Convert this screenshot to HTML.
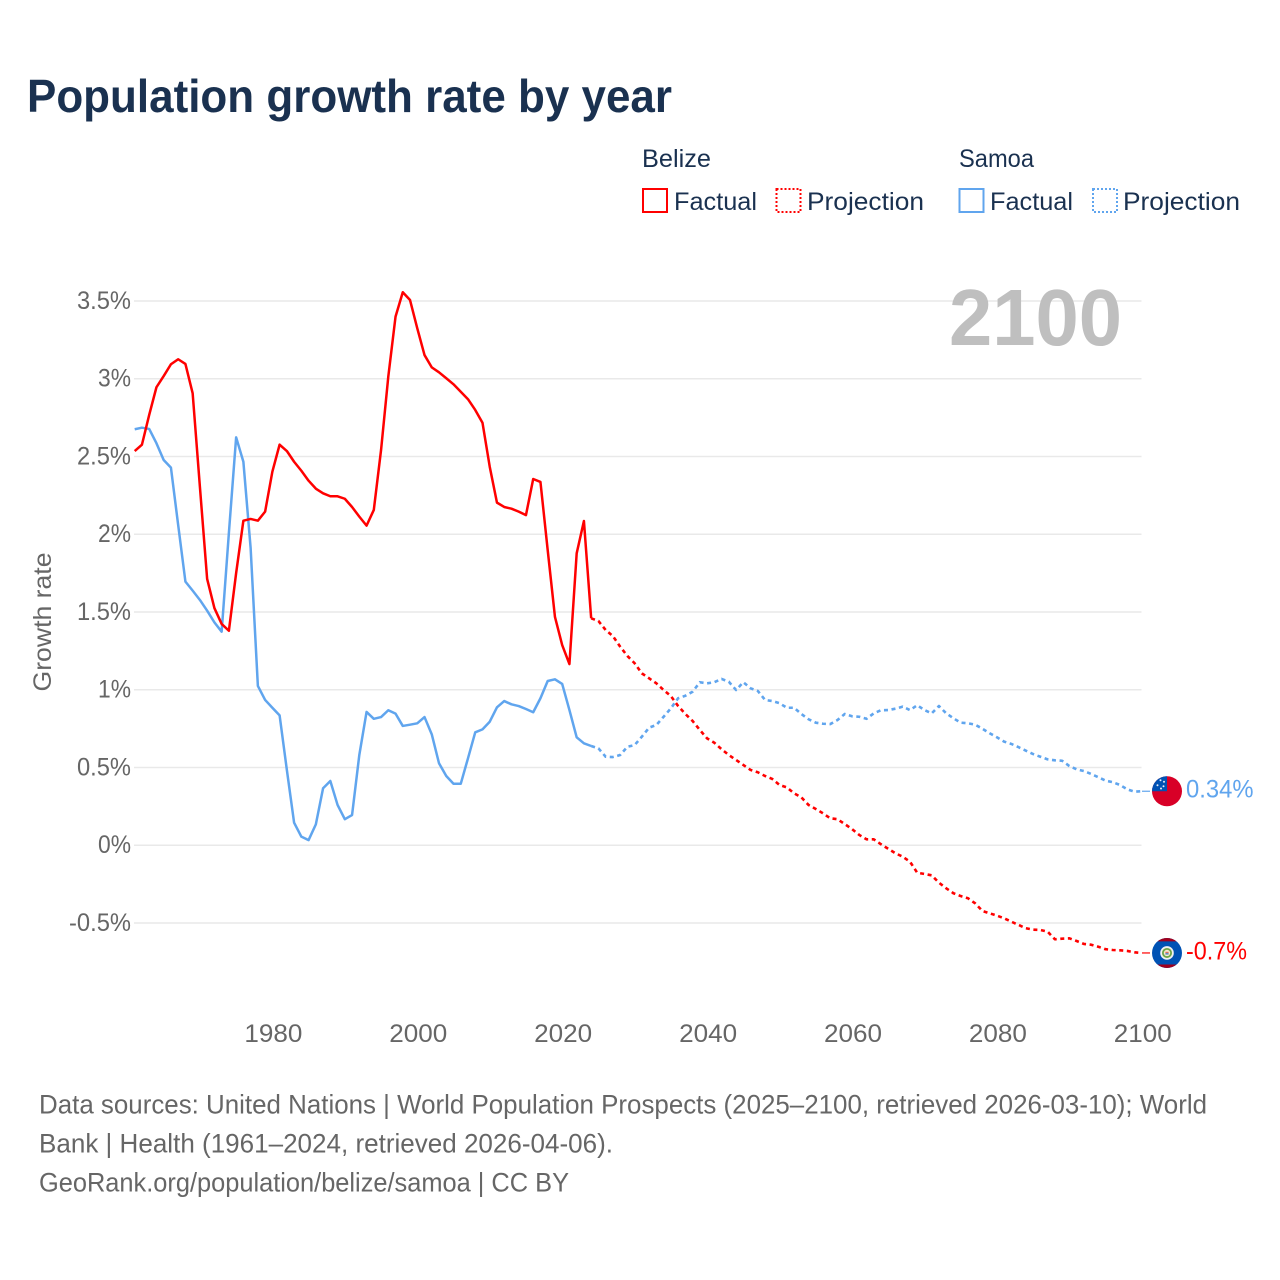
<!DOCTYPE html>
<html lang="en">
<head>
<meta charset="utf-8">
<title>Population growth rate by year</title>
<style>
html,body{margin:0;padding:0;background:#fff;width:1280px;height:1280px;overflow:hidden}
svg{display:block}
text{font-family:"Liberation Sans",sans-serif}
</style>
</head>
<body>
<svg id="chart" xmlns="http://www.w3.org/2000/svg" width="1280" height="1280" viewBox="0 0 1280 1280">
  <rect x="0" y="0" width="1280" height="1280" fill="#fff"/>
  <text x="27" y="112" font-size="46" font-weight="700" fill="#1a3150" textLength="645" lengthAdjust="spacingAndGlyphs">Population growth rate by year</text>

  <g font-size="25" fill="#1a3150">
    <text x="642" y="167" textLength="69" lengthAdjust="spacingAndGlyphs">Belize</text>
    <text x="959" y="167" textLength="75" lengthAdjust="spacingAndGlyphs">Samoa</text>
    <g>
      <rect x="643" y="189" width="24" height="23" fill="none" stroke="#ff0000" stroke-width="2"/>
      <text x="674" y="210" textLength="83" lengthAdjust="spacingAndGlyphs">Factual</text>
    </g>
    <g>
      <rect x="776.5" y="189" width="24" height="23" fill="none" stroke="#ff0000" stroke-width="2" stroke-dasharray="2 2"/>
      <text x="807" y="210" textLength="117" lengthAdjust="spacingAndGlyphs">Projection</text>
    </g>
    <g>
      <rect x="959.5" y="189" width="24" height="23" fill="none" stroke="#60a5ee" stroke-width="2"/>
      <text x="990" y="210" textLength="83" lengthAdjust="spacingAndGlyphs">Factual</text>
    </g>
    <g>
      <rect x="1093" y="189" width="24" height="23" fill="none" stroke="#60a5ee" stroke-width="2" stroke-dasharray="2 2"/>
      <text x="1123" y="210" textLength="117" lengthAdjust="spacingAndGlyphs">Projection</text>
    </g>
  </g>

  <g id="grid"></g>
  <g id="yticks"></g>
  <g id="xticks"></g>

  <text transform="translate(51 622) rotate(-90)" text-anchor="middle" font-size="25" fill="#666" textLength="139" lengthAdjust="spacingAndGlyphs">Growth rate</text>
  <text x="949" y="345" font-size="80" font-weight="700" fill="#bfbfbf" textLength="173" lengthAdjust="spacingAndGlyphs">2100</text>

  <g id="series"></g>
  <g id="ends"></g>

  <g font-size="27" fill="#666">
    <text x="39" y="1113.5" textLength="1168" lengthAdjust="spacingAndGlyphs">Data sources: United Nations | World Population Prospects (2025–2100, retrieved 2026-03-10); World</text>
    <text x="39" y="1152.5" textLength="574" lengthAdjust="spacingAndGlyphs">Bank | Health (1961–2024, retrieved 2026-04-06).</text>
    <text x="39" y="1191.5" textLength="530" lengthAdjust="spacingAndGlyphs">GeoRank.org/population/belize/samoa | CC BY</text>
  </g>
</svg>
<script>
const yTicks = [3.5, 3, 2.5, 2, 1.5, 1, 0.5, 0, -0.5];
const xTicks = [1980, 2000, 2020, 2040, 2060, 2080, 2100];
const factualStartYear = 1961;
const projectionStartYear = 2025;

const belizeFactual = [
2.535,2.576,2.767,2.945,3.017,3.093,3.125,3.095,2.906,2.304,
1.712,1.525,1.423,1.379,1.750,2.087,2.098,2.087,2.145,2.402,
2.576,2.535,2.466,2.408,2.344,2.293,2.263,2.244,2.244,2.228,
2.175,2.113,2.055,2.156,2.541,3.013,3.399,3.556,3.506,3.324,
3.152,3.073,3.041,3.003,2.964,2.916,2.868,2.799,2.717,2.434,
2.203,2.175,2.164,2.145,2.123,2.355,2.336,1.898,1.469,1.287,
1.165,1.877,2.085,1.459];

const belizeProjection = [
1.442,1.384,1.345,1.277,1.217,1.170,1.105,1.073,1.041,0.998,
0.959,0.895,0.844,0.799,0.741,0.687,0.659,0.617,0.580,0.548,
0.516,0.484,0.469,0.445,0.426,0.387,0.372,0.334,0.308,0.259,
0.233,0.205,0.173,0.167,0.136,0.104,0.066,0.038,0.038,0.006,
-0.023,-0.052,-0.074,-0.106,-0.177,-0.185,-0.194,-0.241,-0.277,-0.309,
-0.327,-0.341,-0.374,-0.423,-0.438,-0.453,-0.470,-0.492,-0.513,-0.534,
-0.543,-0.545,-0.556,-0.605,-0.601,-0.599,-0.616,-0.635,-0.640,-0.653,
-0.669,-0.674,-0.676,-0.680,-0.689,-0.693];

const samoaFactual = [
2.675,2.685,2.677,2.585,2.477,2.428,2.059,1.695,1.637,1.577,
1.508,1.433,1.373,2.008,2.623,2.466,1.911,1.024,0.934,0.884,
0.835,0.484,0.145,0.055,0.033,0.134,0.366,0.413,0.259,0.167,
0.194,0.580,0.857,0.813,0.824,0.868,0.846,0.767,0.775,0.784,
0.824,0.713,0.527,0.445,0.395,0.395,0.559,0.726,0.745,0.794,
0.887,0.927,0.906,0.895,0.876,0.855,0.945,1.056,1.067,1.037,
0.869,0.694,0.655,0.638];

const samoaProjection = [
0.623,0.569,0.567,0.580,0.633,0.644,0.698,0.756,0.773,0.826,
0.880,0.945,0.961,0.987,1.048,1.041,1.048,1.069,1.051,0.998,
1.048,1.009,0.992,0.934,0.927,0.913,0.884,0.884,0.844,0.810,
0.788,0.781,0.779,0.805,0.844,0.829,0.826,0.813,0.848,0.868,
0.869,0.878,0.891,0.869,0.900,0.869,0.848,0.895,0.848,0.816,
0.788,0.784,0.775,0.749,0.720,0.694,0.666,0.651,0.630,0.608,
0.586,0.569,0.552,0.546,0.543,0.509,0.488,0.477,0.458,0.437,
0.415,0.405,0.387,0.359,0.344,0.347];

const belizeEndLabel = "-0.7%";
const samoaEndLabel = "0.34%";

const NS = "http://www.w3.org/2000/svg";
function xScale(year){ return 134.7 + (year - 1961) * 7.2455; }
function yScale(v){ return 845.2 - v * 155.5; }
function make(tag, attrs){
  const el = document.createElementNS(NS, tag);
  for (const k in attrs) el.setAttribute(k, attrs[k]);
  return el;
}
function valueLabelWidth(s){
  let w = 0;
  for (const c of s){
    if (c === ".") w += 6.5;
    else if (c === "%") w += 18.5;
    else if (c === "-") w += 8;
    else w += 14.5;
  }
  return w;
}
function pathFrom(values, startYear, prefix){
  return prefix + values.map(function(v, i){
    return (i === 0 && !prefix ? "M" : "L") + xScale(startYear + i).toFixed(2) + " " + yScale(v).toFixed(2);
  }).join(" ");
}

const grid = document.getElementById("grid");
const yG = document.getElementById("yticks");
yTicks.forEach(function(v){
  const line = make("line", {x1: 134, x2: 1141.5, y1: yScale(v), y2: yScale(v), stroke: "#e9e9e9", "stroke-width": 1.5});
  
  
  grid.appendChild(line);
  const label = v + "%";
  const t = make("text", {x: 131, y: yScale(v) + 8, "text-anchor": "end", "font-size": 25, fill: "#666", textLength: valueLabelWidth(label), lengthAdjust: "spacingAndGlyphs"});
  
  
  t.textContent = label;
  yG.appendChild(t);
});

const xG = document.getElementById("xticks");
xTicks.forEach(function(year){
  const t = make("text", {x: xScale(year) + 1, y: 1042, "text-anchor": "middle", "font-size": 25, fill: "#666", textLength: 58, lengthAdjust: "spacingAndGlyphs"});
  
  
  t.textContent = String(year);
  xG.appendChild(t);
});

const seriesG = document.getElementById("series");
function drawSeries(name, color, factual, projection){
  const lastYear = factualStartYear + factual.length - 1;
  const start = "M" + xScale(lastYear).toFixed(2) + " " + yScale(factual[factual.length - 1]).toFixed(2) + " ";
  const dashed = make("path", {d: pathFrom(projection, projectionStartYear, start), fill: "none", stroke: color, "stroke-width": 2.6, "stroke-dasharray": "4 3.6", "stroke-linejoin": "round"});
  
  
  seriesG.appendChild(dashed);
  const solid = make("path", {d: pathFrom(factual, factualStartYear, ""), fill: "none", stroke: color, "stroke-width": 2.5, "stroke-linejoin": "round"});
  
  
  seriesG.appendChild(solid);
}
drawSeries("samoa", "#60a5ee", samoaFactual, samoaProjection);
drawSeries("belize", "#ff0000", belizeFactual, belizeProjection);

const ends = document.getElementById("ends");
function endGroup(name, color, value, label){
  const y = yScale(value);
  const g = make("g", {transform: "translate(1167 " + y.toFixed(2) + ")"});
  
  
  const conn = make("line", {x1: -25, x2: -17, y1: 0, y2: 0, stroke: color, "stroke-width": 1.2});
  
  
  g.appendChild(conn);
  const t = make("text", {x: 19, y: 6.5, "font-size": 25, fill: color, textLength: valueLabelWidth(label) - 1, lengthAdjust: "spacingAndGlyphs"});
  
  
  t.textContent = label;
  g.appendChild(t);
  ends.appendChild(g);
  return g;
}

const samoaMark = endGroup("samoa", "#60a5ee", samoaProjection[samoaProjection.length - 1], samoaEndLabel);
const samoaFlag = make("g", {});


samoaFlag.appendChild(make("circle", {cx: 0, cy: 0, r: 15, fill: "#d80027"}));
samoaFlag.appendChild(make("path", {d: "M0 0V-15A15 15 0 0 0 -15 0Z", fill: "#0052b4"}));
[[-6.5, -11], [-3, -9.5], [-9.5, -6], [-3.5, -5], [-6, -2.8]].forEach(function(p){
  samoaFlag.appendChild(make("circle", {cx: p[0], cy: p[1], r: 1, fill: "#e6eef8"}));
});
samoaMark.appendChild(samoaFlag);

const belizeMark = endGroup("belize", "#ff0000", belizeProjection[belizeProjection.length - 1], belizeEndLabel);
const belizeFlag = make("g", {});


belizeFlag.appendChild(make("circle", {cx: 0, cy: 0, r: 15, fill: "#0052b4"}));
belizeFlag.appendChild(make("path", {d: "M-9.5 -11.6A15 15 0 0 1 9.5 -11.6Z", fill: "#a2001d"}));
belizeFlag.appendChild(make("path", {d: "M-9.5 11.6A15 15 0 0 0 9.5 11.6Z", fill: "#a2001d"}));
belizeFlag.appendChild(make("circle", {cx: 0, cy: 0, r: 6.8, fill: "#f0f0f0"}));
belizeFlag.appendChild(make("circle", {cx: 0, cy: 0, r: 5, fill: "#6da544"}));
belizeFlag.appendChild(make("circle", {cx: 0, cy: 0, r: 3.2, fill: "#f5ead0"}));
belizeFlag.appendChild(make("rect", {x: -1.6, y: -1.2, width: 3.2, height: 1.4, fill: "#e0705a"}));
belizeFlag.appendChild(make("rect", {x: -1.6, y: 0.2, width: 3.2, height: 1.4, fill: "#4a7fc0"}));
belizeMark.appendChild(belizeFlag);
</script>
</body>
</html>
